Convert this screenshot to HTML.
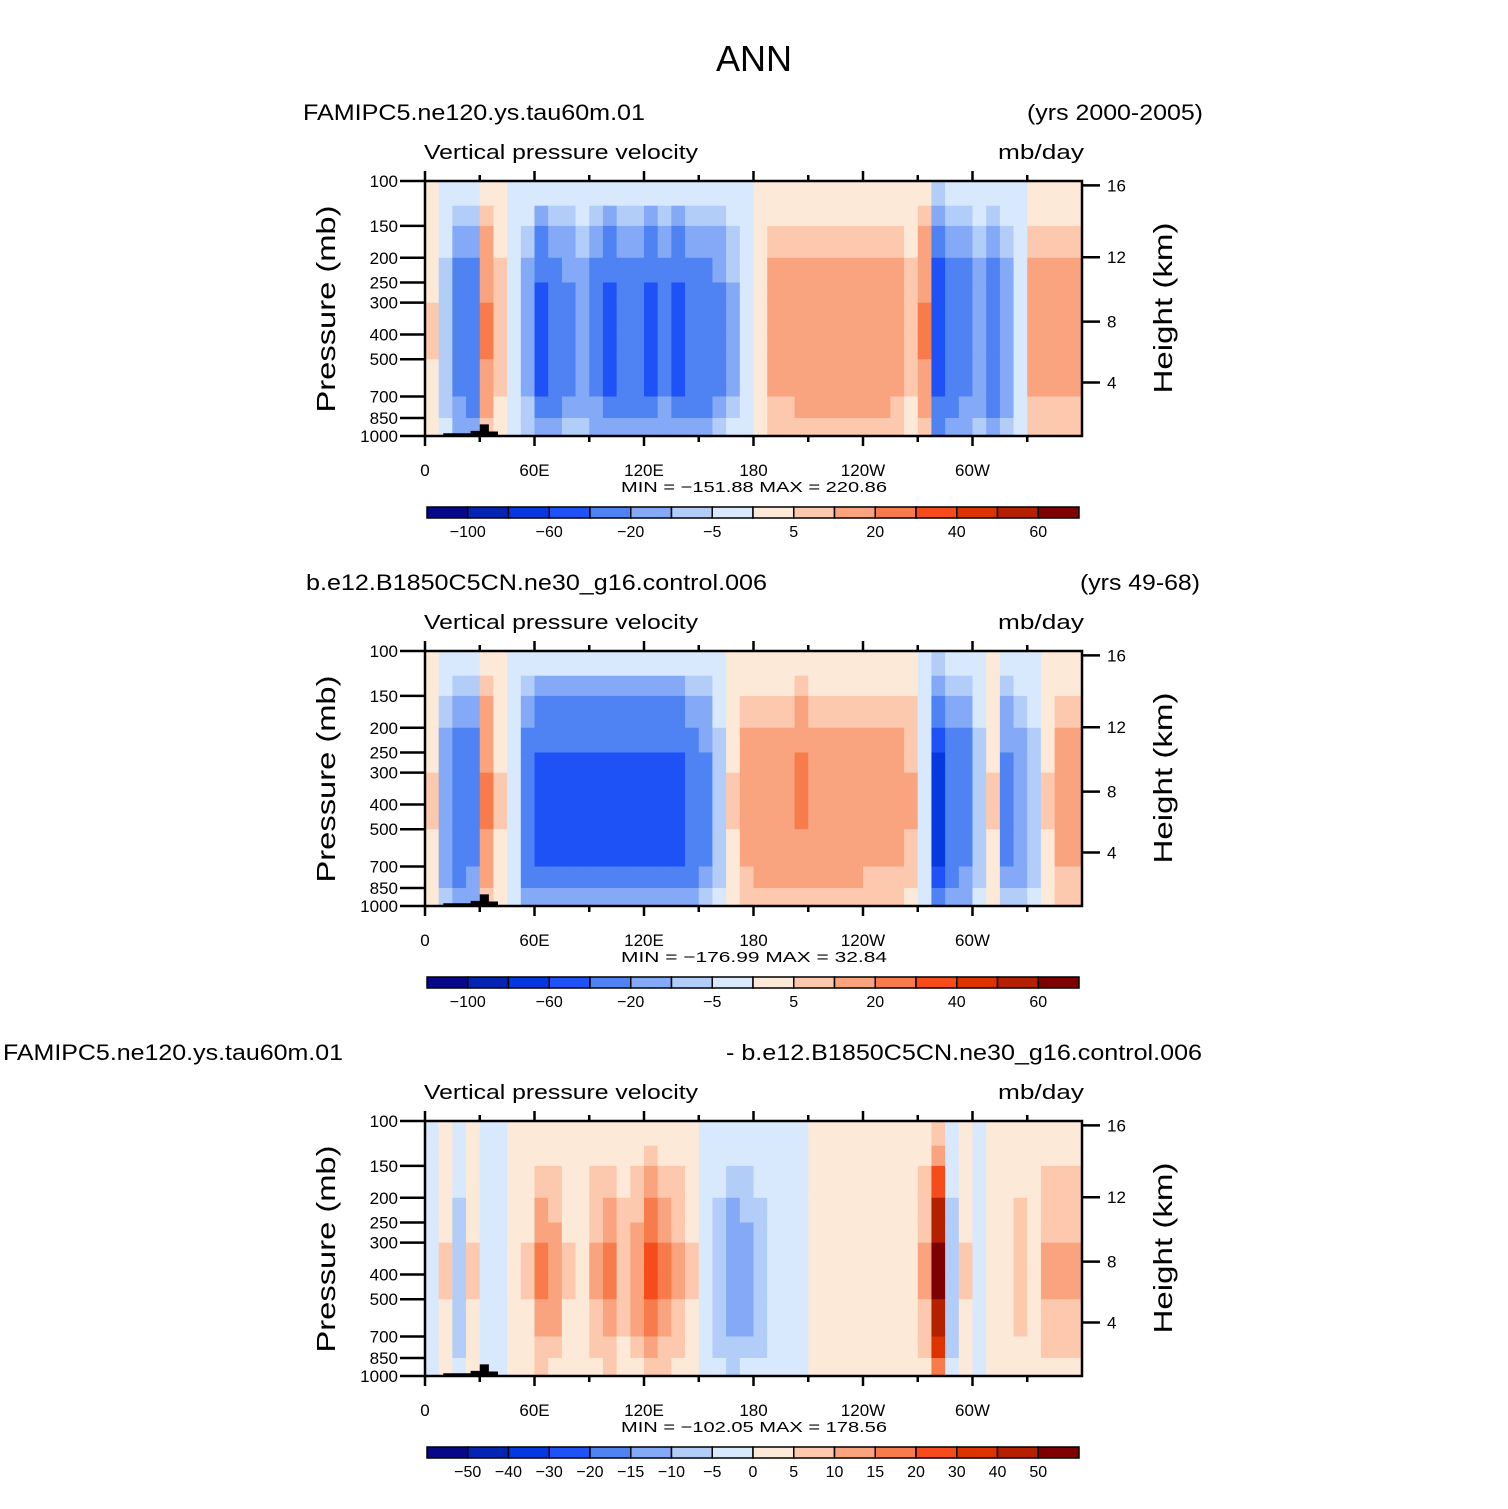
<!DOCTYPE html>
<html><head><meta charset="utf-8"><style>
body{margin:0;background:#fff}
svg{display:block;font-family:"Liberation Sans",sans-serif}
</style></head><body>
<svg id="c" width="1508" height="1509" viewBox="0 0 1508 1509">
<text x="754" y="71" text-anchor="middle" font-size="36">ANN</text>
</svg>
<script>
const profile = [0.1,0.25,0.5,0.8,0.95,1,1,0.9,0.6,0.35];
const pEdges = [100,125,150,200,250,300,400,500,700,850,1000];
const amp1 = [5,-10,-30,-40,20,8,-5,-15,-45,-35,-25,-20,-30,-45,-40,-40,-45,-30,-45,-40,-35,-25,-12,-5,3,15,16,17,18,18,17,17,18,18,15,8,20,-60,-40,-30,-20,-35,-20,-5,15,15,15,15];
const amp2 = [5,-20,-40,-30,20,5,-5,-40,-45,-45,-45,-45,-45,-50,-50,-50,-50,-50,-45,-40,-25,-10,5,15,18,19,19,22,19,18,18,18,16,16,16,10,-5,-70,-40,-30,-10,5,-25,-20,-10,5,15,15];
const amp3 = [-5,5,-10,5,-5,-3,1,5,15,12,5,3,10,15,8,12,20,15,10,5,-3,-10,-15,-12,-10,-5,-2,-2,2,2,2,2,2,2,2,2,10,50,-10,5,-5,3,2,8,1,10,10,10];
const bounds12 = [-100,-80,-60,-40,-20,-10,-5,0,5,10,20,30,40,50,60];
const bounds3 = [-50,-40,-30,-20,-15,-10,-5,0,5,10,15,20,30,40,50];
const cbLabels12 = ["-100","-60","-20","-5","5","20","40","60"];
const cbLabels3 = ["-50","-40","-30","-20","-15","-10","-5","0","5","10","15","20","30","40","50"];
const pTicks = [100,150,200,250,300,400,500,700,850,1000];
const hTicks = [4,8,12,16];
const hTickP = [617,356,199,104];
const lonLabels = ["0","60E","120E","180","120W","60W"];
const topoLon = [10,10,25,25,30,30,35,35,40,40];
const topoP = [1000,975,975,955,955,900,900,960,960,1000];
const colors = ["#07078a","#0424b4","#0638e0","#1f52f6","#4f82f2","#84a9f6","#b3cdf9","#d9e9fd","#fde9d7","#fcc9ae","#f9a47e","#f77b4b","#f64b1b","#dc3300","#b52000","#7e0000"];
const svg = document.getElementById('c');
const NS = 'http://www.w3.org/2000/svg';
function mk(t,a,p){const e=document.createElementNS(NS,t);for(const k in a)e.setAttribute(k,a[k]);(p||svg).appendChild(e);return e;}
const X0=425,X1=1082,H=255;
function xs(lon){return X0+(lon/360)*(X1-X0);}
function ys(p,oy){return oy+181+Math.log10(p/100)*H;}
function lvl(v,b){let i=0;while(i<b.length&&v>=b[i])i++;return i;}
function txt(x,y,s,size,anchor,name,p,len){const a={x:x,y:y,'font-size':size,'text-anchor':anchor||'start'};if(len){a.textLength=len;a.lengthAdjust='spacingAndGlyphs';}const t=mk('text',a,p);t.textContent=s;return t;}
const panels=[
 {amp:amp1,b:bounds12,labs:cbLabels12,lt:"FAMIPC5.ne120.ys.tau60m.01",rt:"(yrs 2000-2005)",ltx:303,rtx:1203,ll:342,rl:176,mm:"MIN = \u2212151.88   MAX = 220.86"},
 {amp:amp2,b:bounds12,labs:cbLabels12,lt:"b.e12.B1850C5CN.ne30_g16.control.006",rt:"(yrs 49-68)",ltx:306,rtx:1200,ll:461,rl:120,mm:"MIN = \u2212176.99   MAX =  32.84"},
 {amp:amp3,b:bounds3,labs:cbLabels3,lt:"FAMIPC5.ne120.ys.tau60m.01",rt:"- b.e12.B1850C5CN.ne30_g16.control.006",ltx:3,rtx:1202,ll:340,rl:476,mm:"MIN = \u2212102.05   MAX = 178.56"}
];
panels.forEach((P,pi)=>{
 const oy=pi*470;
 const g=mk('g',{});
 
 
 txt(P.ltx,oy+120,P.lt,22,'start','panel-title',g,P.ll);
 txt(P.rtx,oy+120,P.rt,22,'end','panel-years',g,P.rl);
 txt(424,oy+159,"Vertical pressure velocity",20,'start','variable-name',g,274);
 txt(1084,oy+159,"mb/day",20,'end','units-label',g,86);
 const cg=mk('g',{},g);
 
 
 P.amp.forEach((a,i)=>{
  for(let k=0;k<profile.length;k++){
   const v=a*profile[k];
   const x=xs(i*7.5),w=xs((i+1)*7.5)-x;
   const y=ys(pEdges[k],oy),h=ys(pEdges[k+1],oy)-y;
   const r=mk('rect',{x:x,y:y,width:w+0.6,height:h+0.6,fill:colors[lvl(v,P.b)]},cg);
   
   
  }
 });
 const pts=topoLon.map((l,i)=>`${xs(l)},${ys(topoP[i],oy)}`).join(' ');
 const tp=mk('polygon',{points:pts,fill:'#000'},g);
 
 
 const fr=mk('rect',{x:X0,y:oy+181,width:X1-X0,height:H,fill:'none',stroke:'#000','stroke-width':2.5},g);
 
 
 pTicks.forEach(p=>{const y=ys(p,oy);mk('line',{x1:X0-25,x2:X0,y1:y,y2:y,stroke:'#000','stroke-width':2.5},g);txt(398,y+6,String(p),17,'end','pressure-tick-label',g);});
 hTicks.forEach((h,i)=>{const y=ys(hTickP[i],oy);mk('line',{x1:X1,x2:X1+18,y1:y,y2:y,stroke:'#000','stroke-width':2.5},g);txt(1107,y+6,String(h),17,'start','height-tick-label',g);});
 for(let l=0;l<360;l+=30){const x=xs(l);const L=l%60===0?10:6;
  mk('line',{x1:x,x2:x,y1:oy+436,y2:oy+436+L,stroke:'#000','stroke-width':2.5},g);
  mk('line',{x1:x,x2:x,y1:oy+181,y2:oy+181-L,stroke:'#000','stroke-width':2.5},g);}
 lonLabels.forEach((s,i)=>txt(xs(i*60),oy+476,s,17,'middle','lon-tick-label',g));
 txt(754,oy+492,P.mm,15,'middle','min-max-label',g,266);
 const yl=txt(0,0,"Pressure (mb)",26,'middle','y-axis-title',g,207);yl.setAttribute('transform',`translate(335,${oy+309}) rotate(-90)`);
 const hl=txt(0,0,"Height (km)",26,'middle','right-axis-title',g,171);hl.setAttribute('transform',`translate(1172,${oy+308}) rotate(-90)`);
 const cb=mk('g',{},g);
 
 
 const bw=(1079-427)/16;
 colors.forEach((c,i)=>{const r=mk('rect',{x:427+i*bw,y:oy+507,width:bw,height:11,fill:c,stroke:'#000','stroke-width':1.5},cb);});
 if(P.labs.length===8){P.labs.forEach((s,i)=>txt(427+(1+2*i)*bw,oy+537,s.replace('-','\u2212'),16,'middle','colorbar-label',cb));}
 else{P.labs.forEach((s,i)=>txt(427+(1+i)*bw,oy+537,s.replace('-','\u2212'),16,'middle','colorbar-label',cb));}
});
</script>
</body></html>
